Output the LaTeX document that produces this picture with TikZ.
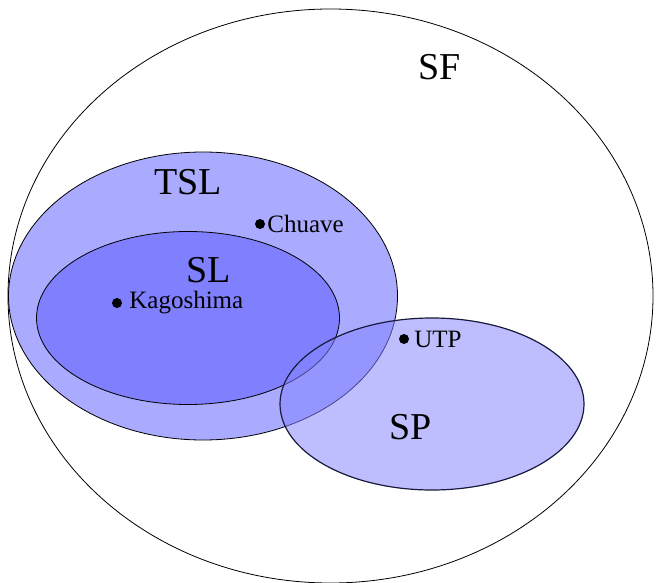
\documentclass[tikz,border=0pt]{standalone}
\usepackage{fontspec}
\setmainfont{Liberation Serif}
\usetikzlibrary{shapes.geometric, positioning}
\definecolor{tslblue}{RGB}{170, 170, 255}
\definecolor{slblue}{RGB}{128, 128, 255}
\definecolor{spblue}{RGB}{132, 132, 255}
\definecolor{spline}{RGB}{25, 25, 60}

\begin{document}
\begin{tikzpicture}[x=1pt, y=-1pt,
    set/.style={ellipse, draw, inner sep=0pt, line width=0.8pt},
    setname/.style={font=\fontsize{38}{40}\selectfont},
    lang/.style={circle, fill=black, inner sep=0pt, minimum size=10pt},
    langname/.style={font=\fontsize{25}{27}\selectfont, inner sep=0pt}
]
    \useasboundingbox (0,0) rectangle (656,583);
    % language classes
    \node[set, fill=tslblue, minimum width=389pt, minimum height=288pt] (tsl) at (203,296) {};
    \node[set, fill=slblue, minimum width=303pt, minimum height=173pt] (sl) at (188,318) {};
    \node[set, fill=spblue, fill opacity=0.53, draw=spline, line width=1.2pt,
          minimum width=304pt, minimum height=172pt] (sp) at (432,404) {};
    \node[set, minimum width=645pt, minimum height=574pt] (sf) at (330.5,296) {};

    \node[setname] (sflabel) at (440,67) {SF};
    \node[setname] (tsllabel) at (188,182) {TSL};
    \node[setname] (sllabel) at (209,270) {SL};
    \node[setname] (splabel) at (411,427) {SP};

    % example languages
    \node[lang] (chuave) at (260,224) {};
    \node[langname, right=2pt of chuave] (chuavename) {Chuave};
    \node[lang] (kagoshima) at (117,303) {};
    \node[langname, right=7pt of kagoshima] (kagoshimaname) {Kagoshima};
    \node[lang] (utp) at (404,339) {};
    \node[langname, right=5pt of utp] (utpname) {UTP};
\end{tikzpicture}
\end{document}
